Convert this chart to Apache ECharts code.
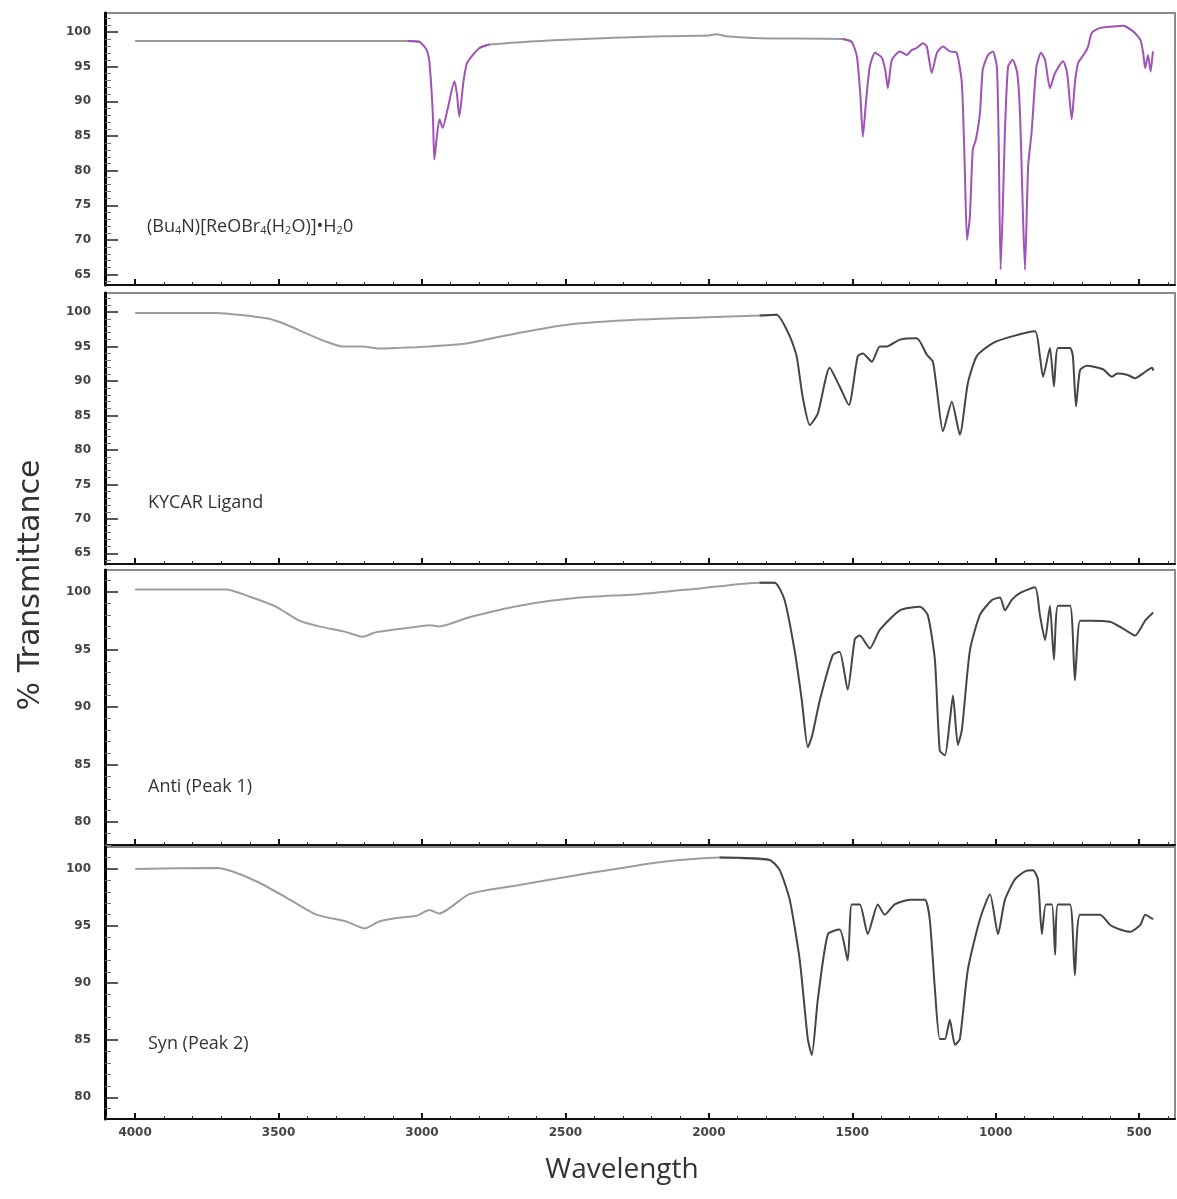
<!DOCTYPE html>
<html>
<head>
<meta charset="utf-8">
<script src="https://cdn.jsdelivr.net/npm/echarts@6/dist/echarts.min.js"></script>
<style>
html,body{margin:0;padding:0;background:#fff;}
#chart{width:1177px;height:1199px;}
</style>
</head>
<body>
<div id="chart"></div>
<script>
// ---- Data (wavenumber, % transmittance) ----
const panelLabels = ['(Bu4N)[ReOBr4(H2O)]•H20', 'KYCAR Ligand', 'Anti (Peak 1)', 'Syn (Peak 2)'];
const xTickLabels = [4000, 3500, 3000, 2500, 2000, 1500, 1000, 500];
const yTicks1 = [100, 95, 90, 85, 80, 75, 70, 65];
const yTicks2 = [100, 95, 90, 85, 80, 75, 70, 65];
const yTicks3 = [100, 95, 90, 85, 80];
const yTicks4 = [100, 95, 90, 85, 80];

const wn1 = [4000,3700,3300,3050,3009,2985,2974,2962,2957,2948,2939,2928,2910,2887,2878,2870,2855,2842,2800,2765,2500,2160,2000,1973,1940,1823,1533,1502,1484,1472,1463,1452,1439,1421,1397,1385,1376,1362,1334,1310,1293,1275,1254,1240,1223,1205,1184,1160,1136,1118,1108,1100,1090,1080,1069,1055,1045,1027,1010,996,990,983,975,968,957,941,925,915,906,898,887,875,858,842,828,811,793,765,751,735,724,713,689,678,665,636,591,556,521,496,486,479,469,460,452];
const t1  = [98.7,98.7,98.7,98.7,98.6,97.5,95.6,88,81.6,85,87.4,86.2,89,92.9,91,87.8,93,95.6,97.7,98.2,98.9,99.4,99.5,99.7,99.4,99.1,99.0,98.6,96.5,91,84.9,90,95.0,97.0,96.3,94.5,91.9,96.0,97.2,96.7,97.4,97.7,98.4,97.9,94.1,97.0,97.9,97.2,97.0,92.6,80.6,70.0,73.4,83.0,84.5,88.3,94.6,96.7,97.2,95.0,85,65.7,75,85.5,95.0,96.0,94.1,88,75,65.7,80.6,85.5,95.0,97.0,96.0,91.9,94.1,95.8,94.1,87.4,92.6,95.5,97.0,97.9,99.9,100.6,100.8,100.9,100.1,98.9,97.0,94.8,96.7,94.3,97.2];

const wn2 = [4000,3717,3543,3487,3403,3334,3278,3208,3150,3079,3020,2974,2900,2835,2660,2486,2241,2032,1823,1764,1718,1694,1673,1648,1620,1579,1544,1512,1481,1463,1432,1404,1380,1334,1275,1240,1219,1205,1184,1153,1125,1097,1066,1010,940,863,846,835,811,797,783,741,731,720,706,682,626,595,577,542,514,486,455,450];
const t2  = [99.85,99.85,99.1,98.4,96.9,95.7,95.0,95.0,94.7,94.8,94.9,95.0,95.2,95.5,97.0,98.2,98.9,99.2,99.5,99.6,96.5,93.6,87.7,83.6,85.3,91.9,89.2,86.5,93.6,94.0,92.8,95.0,95.0,96.0,96.2,93.8,92.8,88.7,82.7,87.0,82.2,89.7,93.6,95.5,96.5,97.2,93.6,90.6,94.8,89.2,94.8,94.8,93.6,86.3,91.6,92.2,91.7,90.6,91.1,90.9,90.4,91.1,91.9,91.5];

const wn3 = [4000,3683,3602,3508,3428,3358,3264,3208,3159,3103,3040,2974,2940,2835,2660,2451,2241,2032,1823,1770,1736,1701,1676,1655,1640,1613,1568,1544,1516,1491,1474,1439,1404,1334,1264,1237,1212,1195,1177,1160,1149,1132,1118,1090,1055,1013,985,968,944,916,863,846,828,811,797,783,741,724,706,671,601,549,514,479,451];
const t3  = [100.2,100.2,99.6,98.7,97.5,97.0,96.5,96.1,96.5,96.7,96.9,97.1,97.0,97.8,98.8,99.5,99.8,100.3,100.8,100.8,99.3,94.9,90.6,86.5,87.5,90.6,94.5,94.8,91.5,95.9,96.2,95.1,96.7,98.4,98.7,98.0,94.1,86.2,85.8,88.8,91.0,86.7,88.0,94.9,98.0,99.3,99.5,98.4,99.3,99.9,100.4,98.0,95.8,98.8,94.1,98.8,98.8,92.3,97.5,97.5,97.4,96.7,96.2,97.5,98.2];

const wn4 = [4000,3717,3662,3567,3473,3368,3264,3201,3149,3089,3020,2974,2940,2835,2660,2451,2172,1962,1788,1753,1718,1683,1655,1641,1620,1585,1544,1516,1502,1474,1446,1411,1387,1352,1299,1247,1230,1212,1195,1177,1160,1142,1125,1097,1055,1020,992,968,933,898,870,853,839,825,804,793,783,741,724,706,636,601,566,531,496,479,451];
const t4  = [100.0,100.1,99.8,98.8,97.5,96.0,95.4,94.8,95.4,95.7,95.9,96.4,96.1,97.8,98.6,99.5,100.6,101.0,100.8,99.9,97.3,92.0,85.1,83.7,88.6,94.3,94.7,92.0,96.9,96.9,94.3,96.9,96.0,96.9,97.3,97.3,95.6,89.5,85.1,85.1,86.8,84.6,85.1,91.2,95.6,97.8,94.3,97.3,99.1,99.8,99.9,99.1,94.3,96.9,96.9,92.5,96.9,96.9,90.7,96.0,96.0,95.1,94.7,94.5,95.1,96.0,95.6];

// ---- Build chart ----
const wnAll = [wn1, wn2, wn3, wn4];
const tAll = [t1, t2, t3, t4];
const yTickAll = [yTicks1, yTicks2, yTicks3, yTicks4];
const yRanges = [[63.5, 102.75], [63.45, 102.76], [78.0, 101.9], [78.1, 101.93]];
const gridBoxes = [[13, 272], [293, 271], [570, 275], [847, 272]];
const X_MIN = 375, X_MAX = 4105;

// colour zones (wavenumber ranges drawn in the accent colour)
const accentZones = [[[0, 1502], [2800, 3009]], [[0, 1800]], [[0, 1800]], [[0, 1800]]];
const accentColors = ['#a052b6', '#454545', '#454545', '#454545'];
const baseColors = ['#9a9a9a', '#9d9d9d', '#9d9d9d', '#9d9d9d'];

function inZones(w, zones) { return zones.some(z => w >= z[0] && w <= z[1]); }
function splitSeries(wn, t, zones, wantAccent) {
  const flags = wn.map(w => inZones(w, zones) === wantAccent);
  return wn.map((w, k) => {
    const keep = flags[k] || (k > 0 && flags[k - 1]) || (k < wn.length - 1 && flags[k + 1]);
    return [w, keep ? t[k] : null];
  });
}

const xMinor = [];
for (let v = 400; v <= 4100; v += 100) if (v % 500 !== 0) xMinor.push(v);

const grids = [], xAxes = [], yAxes = [], series = [], graphics = [];
const labelFont = {fontSize: 12, fontWeight: 'bold', color: '#444', fontFamily: 'DejaVu Sans'};
const plainNum = v => String(v);

for (let i = 0; i < 4; i++) {
  grids.push({left: 105, width: 1070, top: gridBoxes[i][0], height: gridBoxes[i][1],
    show: true, borderColor: '#8a8a8a', borderWidth: 2, backgroundColor: 'transparent'});
  const isBottom = i === 3;
  xAxes.push({type: 'value', gridIndex: i, min: X_MIN, max: X_MAX, inverse: true,
    axisLine: {show: true, onZero: false, lineStyle: {color: '#111', width: 2}},
    axisTick: {show: true, inside: true, length: 6, customValues: xTickLabels, lineStyle: {color: '#111', width: 2}},
    axisLabel: {show: isBottom, customValues: xTickLabels, formatter: plainNum, margin: 8, ...labelFont},
    splitLine: {show: false}});
  xAxes.push({type: 'value', gridIndex: i, min: X_MIN, max: X_MAX, inverse: true, position: 'bottom',
    axisLine: {show: false},
    axisTick: {show: true, inside: true, length: 3, customValues: xMinor, lineStyle: {color: '#333', width: 1}},
    axisLabel: {show: false}, splitLine: {show: false}});
  const yMinor = [];
  for (let v = Math.ceil(yRanges[i][0]); v <= Math.floor(yRanges[i][1]); v++) if (v % 5 !== 0) yMinor.push(v);
  yAxes.push({type: 'value', gridIndex: i, min: yRanges[i][0], max: yRanges[i][1],
    axisLine: {show: true, onZero: false, lineStyle: {color: '#000', width: 3}},
    axisTick: {show: true, inside: true, length: 13, customValues: yTickAll[i], lineStyle: {color: '#222', width: 1.5}},
    axisLabel: {show: true, customValues: yTickAll[i], formatter: plainNum, margin: 14, ...labelFont},
    splitLine: {show: false}});
  yAxes.push({type: 'value', gridIndex: i, min: yRanges[i][0], max: yRanges[i][1], position: 'left',
    axisLine: {show: false},
    axisTick: {show: true, inside: true, length: 6, customValues: yMinor, lineStyle: {color: '#777', width: 1}},
    axisLabel: {show: false}, splitLine: {show: false}});
  const common = {type: 'line', xAxisIndex: 2 * i, yAxisIndex: 2 * i, showSymbol: false, symbol: 'none',
    smooth: 0.2, connectNulls: false};
  series.push({...common, lineStyle: {width: 2, color: baseColors[i]}, itemStyle: {color: baseColors[i]},
    data: splitSeries(wnAll[i], tAll[i], accentZones[i], false)});
  series.push({...common, lineStyle: {width: 2, color: accentColors[i]}, itemStyle: {color: accentColors[i]},
    data: splitSeries(wnAll[i], tAll[i], accentZones[i], true)});
}

// panel labels
const labelPos = [[147, 227], [148, 502], [148, 786], [148, 1043]];
const labelFamily = 'Open Sans';
graphics.push({type: 'text', left: labelPos[0][0], top: labelPos[0][1] - 9,
  style: {text: '{a|(Bu}{s|4}{a|N)[ReOBr}{s|4}{a|(H}{s|2}{a|O)]•H}{s|2}{a|0}',
    rich: {a: {fontSize: 18, fontFamily: labelFamily, fill: '#333', verticalAlign: 'bottom', lineHeight: 24},
           s: {fontSize: 11, fontFamily: labelFamily, fill: '#333', verticalAlign: 'bottom', lineHeight: 20}}}});
for (let i = 1; i < 4; i++) {
  graphics.push({type: 'text', left: labelPos[i][0], top: labelPos[i][1] - 8,
    style: {text: panelLabels[i], fontSize: 18, fontFamily: labelFamily, fill: '#333'}});
}
graphics.push({type: 'text', x: 31, y: 585, rotation: Math.PI / 2,
  style: {text: '% Transmittance', fontSize: 30, fontFamily: 'DejaVu Sans', fill: '#333', align: 'center', verticalAlign: 'middle'}});
graphics.push({type: 'text', x: 622, y: 1170,
  style: {text: 'Wavelength', fontSize: 28, fontFamily: labelFamily, fill: '#333', align: 'center', verticalAlign: 'middle'}});

const chart = echarts.init(document.getElementById('chart'), null, {renderer: 'canvas'});
chart.setOption({
  animation: false,
  backgroundColor: '#fff',
  grid: grids, xAxis: xAxes, yAxis: yAxes, series: series,
  graphic: graphics
});
</script>
</body>
</html>
